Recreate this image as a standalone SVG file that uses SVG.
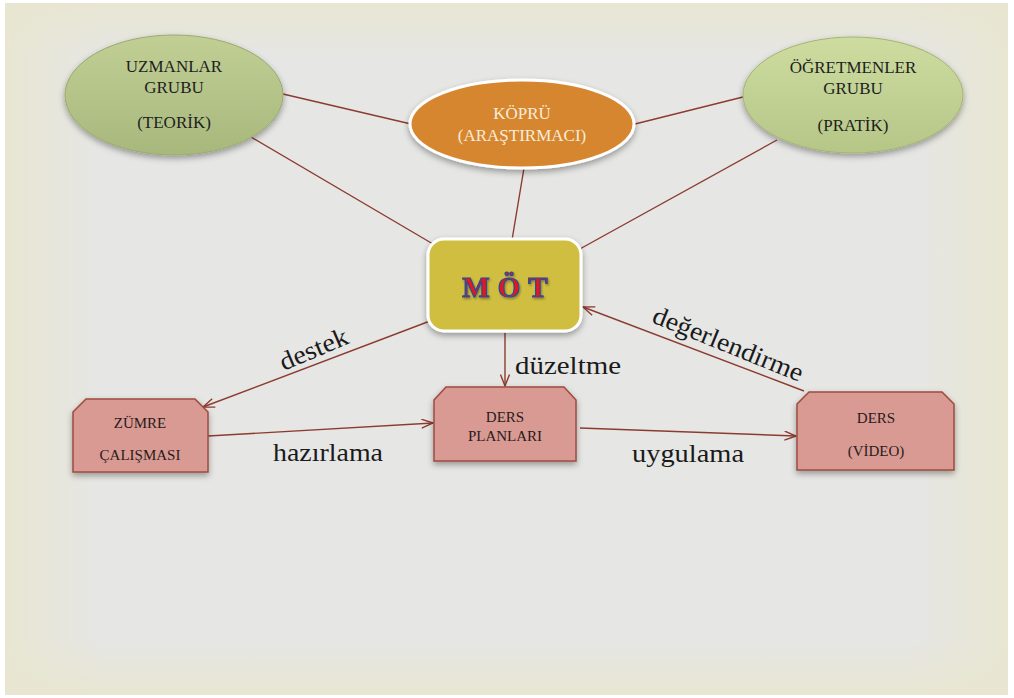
<svg xmlns="http://www.w3.org/2000/svg" width="1014" height="698" viewBox="0 0 1014 698">
<defs>
<linearGradient id="gL" x1="0" y1="0" x2="1" y2="0"><stop offset="0" stop-color="#E8E6D0" stop-opacity="0.9"/><stop offset="1" stop-color="#E8E6D0" stop-opacity="0"/></linearGradient>
<linearGradient id="gR" x1="1" y1="0" x2="0" y2="0"><stop offset="0" stop-color="#E8E6D0" stop-opacity="0.9"/><stop offset="1" stop-color="#E8E6D0" stop-opacity="0"/></linearGradient>
<linearGradient id="gT" x1="0" y1="0" x2="0" y2="1"><stop offset="0" stop-color="#E8E6D0" stop-opacity="0.9"/><stop offset="1" stop-color="#E8E6D0" stop-opacity="0"/></linearGradient>
<linearGradient id="gB" x1="0" y1="1" x2="0" y2="0"><stop offset="0" stop-color="#E8E6D0" stop-opacity="0.9"/><stop offset="1" stop-color="#E8E6D0" stop-opacity="0"/></linearGradient>
<linearGradient id="green1" x1="0" y1="0" x2="0" y2="1"><stop offset="0" stop-color="#C1CF95"/><stop offset="1" stop-color="#A8B87D"/></linearGradient>
<linearGradient id="green2" x1="0" y1="0" x2="0" y2="1"><stop offset="0" stop-color="#CEDCA0"/><stop offset="1" stop-color="#B5C687"/></linearGradient>
<filter id="sh" x="-20%" y="-20%" width="140%" height="150%"><feDropShadow dx="0" dy="3" stdDeviation="3" flood-color="#000" flood-opacity="0.35"/></filter>
<filter id="tsh" x="-20%" y="-20%" width="140%" height="150%"><feDropShadow dx="1" dy="1.5" stdDeviation="1" flood-color="#000" flood-opacity="0.35"/></filter>
<marker id="arr" viewBox="0 0 13 10" refX="12" refY="5" markerWidth="13" markerHeight="10" markerUnits="userSpaceOnUse" orient="auto"><path d="M0.5,0.5 L12,5 L0.5,9.5" fill="none" stroke="#8C3B2F" stroke-width="1.4"/></marker>
</defs>
<style>
.bg{fill:#E6E6E5}
.con{stroke:#8C3B2F;stroke-width:1.4;fill:none}
.ell{font-family:"Liberation Serif",serif;font-size:17px;fill:#1E1E1E;text-anchor:middle}
.kop{font-family:"Liberation Serif",serif;font-size:17px;fill:#F8ECDA;text-anchor:middle}
.box{fill:#D99A94;stroke:#9E4B3E;stroke-width:1.5}
.bt{font-family:"Liberation Serif",serif;font-size:15px;fill:#2A1A1A;text-anchor:middle}
.lab{font-family:"Liberation Serif",serif;font-size:26px;fill:#1A1A1A}
.mot{font-family:"Liberation Serif",serif;font-size:29px;font-weight:bold;fill:#E8141E;stroke:#2A4A9A;stroke-width:1.2;letter-spacing:8px}
</style>
<rect x="0" y="0" width="1014" height="698" fill="#FFFFFF"/>
<rect class="bg" x="5" y="3" width="1003" height="692"/>
<rect x="5" y="3" width="100" height="692" fill="url(#gL)"/>
<rect x="908" y="3" width="100" height="692" fill="url(#gR)"/>
<rect x="5" y="3" width="1003" height="55" fill="url(#gT)"/>
<rect x="5" y="640" width="1003" height="55" fill="url(#gB)"/>

<g id="connectors">
<line class="con" x1="283" y1="94" x2="411" y2="124"/>
<line class="con" x1="635" y1="124" x2="743" y2="97"/>
<line class="con" x1="251" y1="137" x2="433" y2="244"/>
<line class="con" x1="524" y1="168" x2="512" y2="240"/>
<line class="con" x1="777" y1="140" x2="578" y2="250"/>
<line class="con" x1="430" y1="321" x2="203" y2="407" marker-end="url(#arr)"/>
<line class="con" x1="505" y1="333" x2="505" y2="386" marker-end="url(#arr)"/>
<line class="con" x1="208" y1="436" x2="433" y2="423" marker-end="url(#arr)"/>
<line class="con" x1="580" y1="428" x2="796" y2="436" marker-end="url(#arr)"/>
<line class="con" x1="804" y1="391" x2="583" y2="307" marker-end="url(#arr)"/>
<text class="lab" transform="translate(317,357) rotate(-23)" text-anchor="middle" textLength="72" lengthAdjust="spacingAndGlyphs">destek</text>
<text class="lab" x="515" y="374" textLength="106" lengthAdjust="spacingAndGlyphs">düzeltme</text>
<text class="lab" transform="translate(725,352) rotate(22)" text-anchor="middle" textLength="160" lengthAdjust="spacingAndGlyphs">değerlendirme</text>
<text class="lab" x="273" y="461" textLength="110" lengthAdjust="spacingAndGlyphs">hazırlama</text>
<text class="lab" x="632" y="462" textLength="112" lengthAdjust="spacingAndGlyphs">uygulama</text>
</g>

<g id="uzmanlar">
<ellipse cx="174" cy="95" rx="109" ry="60" fill="url(#green1)" stroke="#9AAA6C" stroke-width="1" filter="url(#sh)"/>
<text class="ell" x="174" y="72">UZMANLAR</text>
<text class="ell" x="174" y="93">GRUBU</text>
<text class="ell" x="174" y="128">(TEORİK)</text>
</g>

<g id="kopru">
<ellipse cx="522" cy="124" rx="112" ry="44" fill="#D6862E" stroke="#FFFFFF" stroke-width="3" filter="url(#sh)"/>
<text class="kop" x="522" y="119">KÖPRÜ</text>
<text class="kop" x="522" y="141">(ARAŞTIRMACI)</text>
</g>

<g id="ogretmenler">
<ellipse cx="853" cy="95" rx="110" ry="58" fill="url(#green2)" stroke="#A3B474" stroke-width="1" filter="url(#sh)"/>
<text class="ell" x="853" y="73">ÖĞRETMENLER</text>
<text class="ell" x="853" y="94">GRUBU</text>
<text class="ell" x="853" y="131">(PRATİK)</text>
</g>

<g id="mot">
<rect x="428" y="239" width="153" height="92" rx="16" ry="16" fill="#D0BE40" stroke="#FFFFFF" stroke-width="3" filter="url(#sh)"/>
<text class="mot" x="509" y="297" text-anchor="middle" filter="url(#tsh)">MÖT</text>
</g>

<g id="zumre">
<path class="box" d="M73,412 L86,399 L195,399 L208,412 L208,472 L73,472 Z" filter="url(#sh)"/>
<text class="bt" x="140" y="428">ZÜMRE</text>
<text class="bt" x="140" y="460">ÇALIŞMASI</text>
</g>

<g id="dersplanlari">
<path class="box" d="M434,400 L446,387 L564,387 L576,400 L576,461 L434,461 Z" filter="url(#sh)"/>
<text class="bt" x="505" y="422">DERS</text>
<text class="bt" x="505" y="441">PLANLARI</text>
</g>

<g id="dersvideo">
<path class="box" d="M797,404 L809,392 L942,392 L954,404 L954,470 L797,470 Z" filter="url(#sh)"/>
<text class="bt" x="876" y="423">DERS</text>
<text class="bt" x="876" y="456">(VİDEO)</text>
</g>
</svg>
